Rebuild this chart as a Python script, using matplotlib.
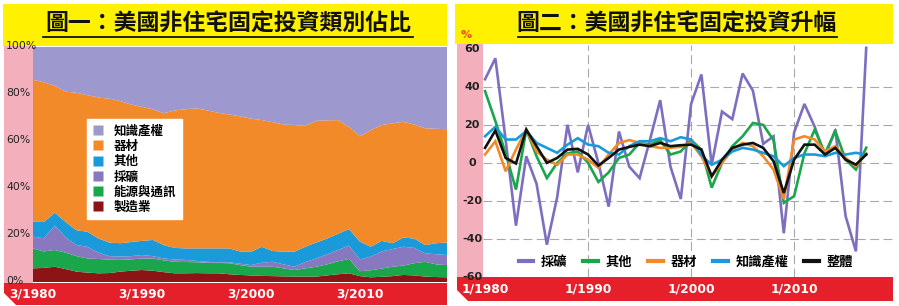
import matplotlib
matplotlib.use("Agg")
import matplotlib.pyplot as plt
import numpy as np
from matplotlib.patches import Rectangle, Polygon
from matplotlib.lines import Line2D

# ---------------- data: chart 1 (share of non-residential fixed investment, %) ----------------
years1 = list(range(1980, 2019))
manuf = [5.8, 6.0, 6.5, 5.5, 4.4, 4.0, 3.7, 3.8, 4.4, 4.8, 5.1, 4.8, 4.2, 3.7, 3.7, 3.8, 3.7, 3.7, 3.3, 3.0,
         2.8, 2.6, 2.5, 2.4, 2.3, 2.3, 2.3, 2.8, 3.3, 3.7, 2.5, 2.0, 2.2, 2.5, 3.0, 2.8, 2.3, 2.1, 2.0]
energy = [8.5, 7.0, 7.1, 7.0, 6.6, 6.0, 6.1, 5.7, 5.0, 4.8, 4.9, 5.2, 5.0, 4.9, 4.8, 4.6, 4.5, 4.4, 4.7, 4.2,
          3.7, 3.9, 4.0, 3.4, 2.8, 3.5, 4.2, 4.7, 5.5, 6.1, 2.1, 3.0, 3.5, 4.0, 4.0, 5.2, 6.3, 5.4, 5.2]
mining = [5.0, 5.6, 10.4, 6.5, 4.7, 5.0, 2.7, 1.5, 1.4, 1.4, 1.5, 1.0, 0.8, 1.0, 0.9, 0.6, 0.4, 0.2, 0.4, 0.6,
          0.7, 1.7, 2.1, 1.7, 1.4, 2.7, 3.5, 4.3, 4.8, 5.7, 5.0, 5.8, 7.3, 7.5, 8.0, 6.5, 3.6, 4.3, 4.3]
other = [6.4, 6.9, 5.5, 6.5, 6.3, 6.4, 6.0, 5.8, 5.7, 6.0, 6.0, 6.9, 5.7, 4.9, 4.9, 5.3, 5.7, 6.0, 5.9, 5.2,
         5.6, 6.8, 4.6, 5.4, 6.4, 6.5, 6.8, 6.7, 6.9, 7.0, 7.6, 4.2, 4.5, 2.5, 3.9, 4.0, 3.5, 4.7, 5.3]
equip = [60.3, 59.5, 54.0, 55.5, 58.5, 58.1, 60.0, 61.2, 60.5, 58.5, 57.0, 55.6, 56.1, 58.5, 59.2, 59.6, 58.7,
         57.7, 57.0, 57.5, 56.7, 53.9, 54.8, 54.1, 53.9, 51.4, 51.8, 50.3, 48.4, 43.5, 44.8, 49.6, 49.3, 51.0,
         49.3, 48.5, 49.7, 48.7, 48.2]
ip = [14.0, 15.0, 16.5, 19.0, 19.5, 20.5, 21.5, 22.0, 23.0, 24.5, 25.5, 26.5, 28.2, 27.0, 26.5, 26.1, 27.0,
      28.0, 28.7, 29.5, 30.5, 31.1, 32.0, 33.0, 33.2, 33.6, 31.4, 31.2, 31.1, 34.0, 38.0, 35.4, 33.2, 32.5,
      31.8, 33.0, 34.6, 34.8, 35.0]
labels1 = ["製造業", "能源與通訊", "採礦", "其他", "器材", "知識產權"]
colors1 = ["#8C1414", "#1AA64B", "#8878C0", "#1B9ADA", "#F28A2A", "#9D99CE"]
xticks1 = [1980, 1990, 2000, 2010]
xticklabels1 = ["3/1980", "3/1990", "3/2000", "3/2010"]
yticks1 = [0, 20, 40, 60, 80, 100]

# ---------------- data: chart 2 (annual growth, %) ----------------
years2 = list(range(1980, 2018))
g_mining = [44, 55, 12, -33, 3.5, -11, -43, -18, 20, -5, 20, 0, -23, 16.5, -2, -8, 12, 33, -2, -19,
            31, 46.5, -1, 27, 23, 47, 38, 10, 14, -37, 16, 31, 19, 3.5, 17.5, -28, -46.5, 60.5]
g_other = [37.7, 22, 5, -14, 17.5, 3.5, -8, 0, 5, 6, 0, -10, -5, 2.6, 4.4, 10.5, 9.6, 12, 4.4, 6,
           12, 7, -13, 0, 8.8, 14, 21, 20, 12, -21, -17.5, 5, 17.5, 5, 16.7, 1.7, -3.5, 8]
g_equip = [4.4, 11.4, -4.4, 7, 17.5, 6, 1.7, -1, 4.4, 4.4, 1.7, -2.6, 4.4, 10.5, 12, 10.5, 8.8, 7.9, 7.9, 8.5,
           10.5, 3.5, -7, 0, 7, 10.5, 8.8, 3.5, -3.5, -19, 12.3, 14, 12.3, 6, 8.8, 2.6, -1.7, 5]
g_ip = [14, 19, 12.3, 12.3, 16.7, 10.5, 7.9, 5.3, 9.6, 13, 9.6, 8.8, 5.3, 4.4, 8.8, 11.4, 11.4, 13, 11.4, 13.5,
        12.3, 4, -1, 1.7, 6, 7.9, 7, 5.3, 3.5, -1.7, 2.6, 4.4, 4.4, 3.5, 5.3, 4.4, 5.3, 4.4]
g_total = [7.9, 17, 2.6, -0.3, 17.5, 8.8, 0, 2.6, 7, 7.4, 4.4, -1.4, 2.6, 7, 8.4, 9.6, 8.8, 10.5, 8.8, 9.3,
           9.6, 7, -7, 1.7, 7.9, 9.6, 10.5, 7.9, 0.9, -15.8, 1.7, 9.6, 9.6, 4.4, 7.9, 1.7, -0.9, 4.4]
labels2 = ["採礦", "其他", "器材", "知識產權", "整體"]
colors2 = ["#7E6EC0", "#1AA64B", "#F28A2A", "#1B9ADA", "#111111"]
xticks2 = [1980, 1990, 2000, 2010]
xticklabels2 = ["1/1980", "1/1990", "1/2000", "1/2010"]
yticks2 = [-60, -40, -20, 0, 20, 40, 60]

# ---------------- layout ----------------
W, H = 899, 306
fig = plt.figure(figsize=(W / 100, H / 100), dpi=100)
fig.patch.set_facecolor("white")
CJK = ["Noto Sans CJK TC", "DejaVu Sans"]
YELLOW = "#FFF100"
PINK = "#F3B0BC"
RED = "#E5202A"


def rect(x0, y0, x1, y1, color, z=-5):
    fig.add_artist(Rectangle((x0 / W, 1 - y1 / H), (x1 - x0) / W, (y1 - y0) / H,
                             transform=fig.transFigure, facecolor=color, edgecolor="none", zorder=z))


def tri(pts, color="white", z=5):
    fig.add_artist(Polygon([(x / W, 1 - y / H) for x, y in pts], closed=True,
                           transform=fig.transFigure, facecolor=color, edgecolor="none", zorder=z))


# panel 1 backgrounds
rect(3, 4, 447, 46, YELLOW)
rect(4, 46, 33, 283, PINK)
rect(4, 283, 447, 305, RED)
tri([(3, 292), (3, 307), (18, 307)])
# panel 2 backgrounds
rect(455, 4, 893, 44, YELLOW)
rect(457, 44, 483, 277, PINK)
rect(457, 277, 893, 301, RED)
tri([(455, 288), (455, 303), (470, 303)])

# titles
fig.text(228 / W, 1 - 24 / H, "圖一：美國非住宅固定投資類別佔比", family=CJK, weight="bold",
         fontsize=16.5, ha="center", va="center", color="#111111")
fig.add_artist(Line2D([43 / W, 413 / W], [1 - 36.5 / H, 1 - 36.5 / H], transform=fig.transFigure,
                      color="#111111", lw=1.3, zorder=3))
fig.text(677 / W, 1 - 24 / H, "圖二：美國非住宅固定投資升幅", family=CJK, weight="bold",
         fontsize=16.5, ha="center", va="center", color="#111111")
fig.add_artist(Line2D([518 / W, 837 / W], [1 - 36.5 / H, 1 - 36.5 / H], transform=fig.transFigure,
                      color="#111111", lw=1.3, zorder=3))
fig.text(466 / W, 1 - 35 / H, "%", color="#E8481E", weight="bold", fontsize=8, ha="center", va="center")

# ---------------- chart 1 ----------------
ax1 = fig.add_axes([33 / W, 1 - 282 / H, 414 / W, 235 / H])
ax1.stackplot(years1, manuf, energy, mining, other, equip, ip, colors=colors1, labels=labels1, lw=0)
ax1.set_xlim(1980, 2018)
ax1.set_ylim(0, 100)
for s in ax1.spines.values():
    s.set_visible(False)
ax1.set_yticks([])
ax1.set_xticks(xticks1)
ax1.set_xticklabels(xticklabels1)
ax1.tick_params(axis="x", length=0, pad=4, labelcolor="white", labelsize=8.8)
for t in ax1.get_xticklabels():
    t.set_fontweight("bold")
for v in yticks1:
    ax1.text(-27 / 414, v / 100 + 0.004, f"{v}%", transform=ax1.transAxes, ha="left", va="center",
             fontsize=7.8, color="#222222", clip_on=False)
handles1 = [Line2D([], [], marker="s", ls="none", markersize=6.5, markerfacecolor=c, markeredgecolor="none")
            for c in colors1[::-1]]
leg1 = ax1.legend(handles1, labels1[::-1], loc="upper left", bbox_to_anchor=(54 / 414, (282 - 119) / 235),
                  borderaxespad=0, frameon=True, fancybox=False, framealpha=1, edgecolor="white",
                  prop={"family": CJK, "weight": "bold", "size": 9}, handlelength=0.8, handletextpad=0.9,
                  labelspacing=0.18, borderpad=0.45)

# ---------------- chart 2 ----------------
ax2 = fig.add_axes([483 / W, 1 - 277 / H, 410 / W, 232 / H])
ax2.set_facecolor("white")
series2 = [g_mining, g_other, g_equip, g_ip, g_total]
for vals, c, lab in zip(series2, colors2, labels2):
    ax2.plot(years2, vals, color=c, lw=1.9, label=lab, solid_joinstyle="miter")
ax2.set_xlim(1979.8, 2019.6)
ax2.set_ylim(-60, 62)
for s in ax2.spines.values():
    s.set_visible(False)
ax2.set_yticks(yticks2)
ax2.set_yticklabels([])
ax2.tick_params(axis="y", length=0)
for v in [-40, -20, 0, 20, 40]:
    ax2.axhline(v, color="#A8A8A8", lw=0.8, ls=(0, (8, 4)), zorder=0)
for v in [1990, 2000, 2010]:
    ax2.axvline(v, color="#A8A8A8", lw=0.8, ls=(0, (8, 4)), zorder=0)
for v in yticks2:
    ax2.text(-11 / 410, (v + 60) / 122, f"{v}", transform=ax2.transAxes, ha="center", va="center",
             fontsize=8, weight="bold", color="#222222", clip_on=False)
ax2.set_xticks(xticks2)
ax2.set_xticklabels(xticklabels2)
ax2.tick_params(axis="x", length=0, pad=4, labelcolor="white", labelsize=8.8)
for t in ax2.get_xticklabels():
    t.set_fontweight("bold")
leg2 = ax2.legend(loc="center", bbox_to_anchor=(0.495, (277 - 262) / 232), ncol=5, frameon=False,
                  prop={"family": CJK, "weight": "bold", "size": 9.5}, handlelength=1.1,
                  handletextpad=0.6, columnspacing=1.2, borderaxespad=0, borderpad=0)
for h in leg2.get_lines():
    h.set_linewidth(3)

fig.savefig("out.png", dpi=100)
